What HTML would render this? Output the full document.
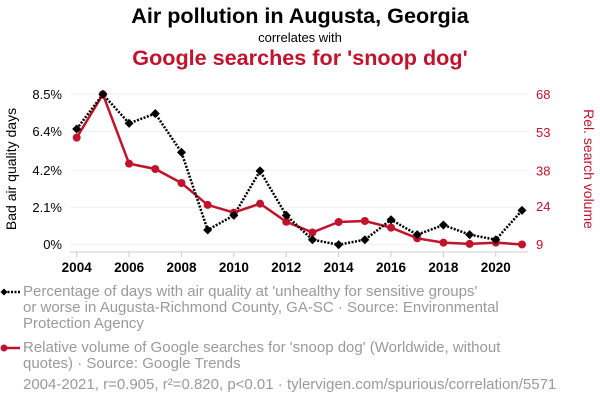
<!DOCTYPE html>
<html><head><meta charset="utf-8"><style>
body{margin:0;width:600px;height:408px;background:#fff;font-family:"Liberation Sans",sans-serif;overflow:hidden}
.t{position:absolute;left:0;width:600px;text-align:center}
.leg{position:absolute;left:23px;font-size:15px;line-height:16px;color:#9a9a9a;white-space:nowrap}
</style></head><body>
<div class="t" style="top:3px;font-size:21.6px;font-weight:bold;color:#000">Air pollution in Augusta, Georgia</div>
<div class="t" style="top:30px;font-size:13px;color:#000">correlates with</div>
<div class="t" style="top:45px;font-size:21.6px;font-weight:bold;color:#c0132d">Google searches for 'snoop dog'</div>
<svg id="c" width="600" height="280" style="position:absolute;left:0;top:0"></svg>
<div class="leg" style="top:284px">Percentage of days with air quality at 'unhealthy for sensitive groups'<br>or worse in Augusta-Richmond County, GA-SC · Source: Environmental<br>Protection Agency</div>
<div class="leg" style="top:340px">Relative volume of Google searches for 'snoop dog' (Worldwide, without<br>quotes) · Source: Google Trends</div>
<div class="leg" style="top:377px">2004-2021, r=0.905, r²=0.820, p&lt;0.01 · tylervigen.com/spurious/correlation/5571</div>
<svg width="24" height="100" style="position:absolute;left:0;top:280px">
<line x1="4" y1="12" x2="20" y2="12" stroke="#000" stroke-width="2.5" stroke-dasharray="2,1.5"/>
<rect x="1.5" y="9.5" width="5" height="5" transform="rotate(45 4 12)" fill="#000"/>
<line x1="4" y1="68" x2="20" y2="68" stroke="#c0132d" stroke-width="2.5"/>
<circle cx="4" cy="68" r="3.5" fill="#c0132d"/>
</svg>
<script>
const years=[2004,2005,2006,2007,2008,2009,2010,2011,2012,2013,2014,2015,2016,2017,2018,2019,2020,2021];
const airPct=[6.54,8.5,6.86,7.41,5.22,0.83,1.66,4.17,1.66,0.28,0,0.28,1.41,0.57,1.11,0.57,0.28,1.94];
const snoop=[51,68,40.8,38.7,33.2,24.6,21.6,25.1,18,13.8,17.9,18.3,15.7,11.5,9.8,9.3,9.8,9.1];
const leftTicks=[0,2.1,4.2,6.4,8.5];
const leftLabels=["0%","2.1%","4.2%","6.4%","8.5%"];
const rightTicks=[9,24,38,53,68];
const xTicks=[2004,2006,2008,2010,2012,2014,2016,2018,2020];
const NS="http://www.w3.org/2000/svg",svg=document.getElementById('c');
const X=y=>76.7+(y-2004)*(522-76.7)/17;
const YL=v=>244.7-v/8.5*(244.7-94.3);
const YR=v=>244.7-(v-9)/59*(244.7-94.3);
function mk(t,a,p){const e=document.createElementNS(NS,t);for(const k in a)e.setAttribute(k,a[k]);(p||svg).appendChild(e);return e;}
leftTicks.forEach((v,i)=>{
const g=mk('line',{x1:70,x2:528,y1:YL(v),y2:YL(v),stroke:'#f0f0f0','stroke-width':1});


const t=mk('text',{x:62,y:YL(v)+4.5,'text-anchor':'end','font-size':13,fill:'#000'});t.textContent=leftLabels[i];


});
rightTicks.forEach(v=>{
const t=mk('text',{x:536,y:YR(v)+4.5,'font-size':13,fill:'#c0132d'});t.textContent=v;


});
const ax=mk('line',{x1:70,x2:528,y1:252,y2:252,stroke:'#ccc','stroke-width':1});


xTicks.forEach(y=>{
mk('line',{x1:X(y),x2:X(y),y1:252,y2:257,stroke:'#ccc'});
const t=mk('text',{x:X(y),y:272,'text-anchor':'middle','font-size':13.5,'font-weight':'bold',fill:'#000'});t.textContent=y;


});
const yl=mk('text',{transform:'translate(16,169) rotate(-90)','text-anchor':'middle','font-size':14,fill:'#000'});yl.textContent='Bad air quality days';


const yr=mk('text',{transform:'translate(584,169) rotate(90)','text-anchor':'middle','font-size':14,fill:'#c0132d'});yr.textContent='Rel. search volume';


const rl=mk('polyline',{points:years.map((y,i)=>X(y)+','+YR(snoop[i])).join(' '),fill:'none',stroke:'#c0132d','stroke-width':2.5});


const bl=mk('polyline',{points:years.map((y,i)=>X(y)+','+YL(airPct[i])).join(' '),fill:'none',stroke:'#000','stroke-width':2.5,'stroke-dasharray':'2,1.5'});


years.forEach((y,i)=>{
const c=mk('circle',{cx:X(y),cy:YR(snoop[i]),r:4,fill:'#c0132d'});


});
years.forEach((y,i)=>{
const cx=X(y),cy=YL(airPct[i]);
const d=mk('rect',{x:cx-3.2,y:cy-3.2,width:6.4,height:6.4,transform:`rotate(45 ${cx} ${cy})`,fill:'#000'});


});
</script>
</body></html>
